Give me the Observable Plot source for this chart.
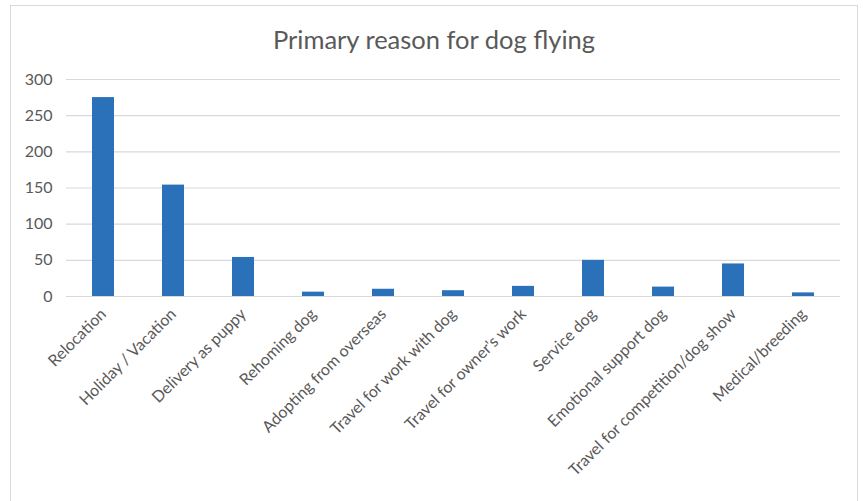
<!DOCTYPE html>
<html>
<head>
<meta charset="utf-8">
<script src="https://cdn.jsdelivr.net/npm/d3@7"></script>
<script src="https://cdn.jsdelivr.net/npm/@observablehq/plot@0.6"></script>
<style>
  html, body { margin: 0; padding: 0; background: #fff; }
  #frame {
    position: absolute; left: 10px; top: 5px; width: 848px; height: 500px;
    border: 1px solid #d9d9d9; box-sizing: border-box; background: #fff; overflow: hidden;
  }
  #title {
    height: 54px; box-sizing: border-box; padding-top: 18px;
    text-align: center; font-family: Lato, "Open Sans", sans-serif; font-size: 25.5px;
    color: #595959; line-height: 30px;
  }
  #chart svg { display: block; }
</style>
</head>
<body>
<div id="frame">
  <div id="title">Primary reason for dog flying</div>
  <div id="chart"></div>
</div>
<script>
const categories = [
  "Relocation", "Holiday / Vacation", "Delivery as puppy", "Rehoming dog",
  "Adopting from overseas", "Travel for work with dog", "Travel for owner's work",
  "Service dog", "Emotional support dog", "Travel for competition/dog show", "Medical/breeding"
];
const counts = [275, 154, 54, 6, 10, 8, 14, 50, 13, 45, 5];
const yTicks = [0, 50, 100, 150, 200, 250, 300];

const data = categories.map((c, i) => ({ reason: c, count: counts[i] }));

const chart = Plot.plot({
  width: 846,
  height: 440,
  marginTop: 19,
  marginLeft: 55,
  marginRight: 17,
  marginBottom: 204,
  style: { fontFamily: "Lato, 'Open Sans', sans-serif", color: "#595959", background: "#fff" },
  x: { domain: categories, paddingInner: 0.69, paddingOuter: 0.345, label: null },
  y: { domain: [0, 300], ticks: yTicks, label: null },
  marks: [
    Plot.gridY(yTicks, { stroke: "#d9d9d9", strokeOpacity: 1, strokeWidth: 1.2 }),
    Plot.barY(data, { x: "reason", y: "count", fill: "#2a71ba" }),
    Plot.axisY(yTicks, { tickSize: 0, tickPadding: 14, fontSize: 16, fill: "#595959", label: null }),
    Plot.axisX({ tickSize: 0, tickPadding: 15, tickRotate: -45, fontSize: 16, fill: "#595959", label: null })
  ]
});
document.getElementById("chart").appendChild(chart);
</script>
</body>
</html>
